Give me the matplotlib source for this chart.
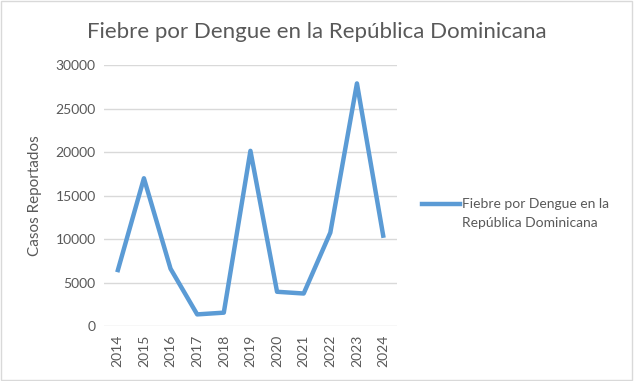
import numpy as np
import matplotlib.pyplot as plt
from matplotlib.patches import Rectangle
from matplotlib.lines import Line2D

plt.rcParams['font.family'] = ['Lato', 'DejaVu Sans']

years = ["2014", "2015", "2016", "2017", "2018", "2019", "2020", "2021", "2022", "2023", "2024"]
casos = [6200, 17000, 6600, 1350, 1550, 20150, 3950, 3750, 10750, 27900, 10150]
serie = "Fiebre por Dengue en la\nRepública Dominicana"
titulo = "Fiebre por Dengue en la República Dominicana"

gray = "#595959"
blue = "#5B9BD5"

fig = plt.figure(figsize=(6.34, 3.81), dpi=100)
ax = fig.add_axes([0.164, 0.144, 0.462, 0.685])

x = np.arange(len(years))
ax.plot(x, casos, color=blue, lw=3.2, solid_joinstyle="round", solid_capstyle="butt")

ax.set_xlim(-0.5, len(years) - 0.5)
ax.set_ylim(0, 30000)
ax.set_yticks(np.arange(0, 30001, 5000))
ax.set_xticks(x)
ax.set_xticklabels(years, rotation=90)
ax.tick_params(length=0, labelsize=10, labelcolor=gray, pad=6)
ax.grid(axis="y", color="#d9d9d9", lw=1)
ax.set_axisbelow(True)
for s in ax.spines.values():
    s.set_visible(False)

ax.set_ylabel("Casos Reportados", fontsize=11, color=gray, labelpad=10)
fig.text(0.5, 0.915, titulo, ha="center", va="center", fontsize=16, color=gray)

# legend drawn by hand so the key sits on the first text line
fig.add_artist(Line2D([0.666, 0.726], [0.465, 0.465], transform=fig.transFigure,
                      color=blue, lw=3.2))
for i, line in enumerate(serie.split("\n")):
    fig.text(0.728, 0.465 - i * 0.051, line, ha="left", va="center",
             fontsize=10, color=gray)

fig.patches.append(Rectangle((0.002, 0.003), 0.995, 0.994, transform=fig.transFigure,
                             fill=False, edgecolor="#d9d9d9", lw=1))

fig.savefig("out.png", dpi=100)
